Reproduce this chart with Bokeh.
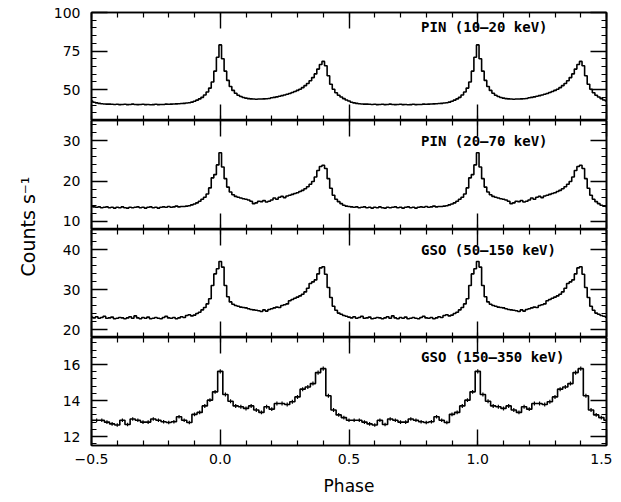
from math import pi
from bokeh.plotting import figure
from bokeh.layouts import row, column
from bokeh.models import Range1d, LinearAxis, SingleIntervalTicker, CustomJSTickFormatter, Label
from bokeh.embed import file_html
from bokeh.resources import INLINE

# ---------------- data (one pulse cycle, phase 0.00 ... 0.99) ----------------
# PIN 10-20 keV, counts/s, bins of 0.01 in phase
pin_10_20 = [79.0, 70.0, 62.0, 56.0, 52.0, 49.5, 47.7, 46.4, 45.6, 44.9,
             44.5, 44.2, 44.0, 43.9, 43.8, 43.9, 43.9, 44.0, 44.1, 44.3,
             44.7, 45.0, 45.3, 45.7, 46.1, 46.5, 47.0, 47.5, 48.1, 48.8,
             49.5, 50.3, 51.3, 52.6, 54.0, 55.8, 57.8, 60.2, 63.3, 66.3,
             68.3, 65.5, 59.0, 53.5, 50.3, 48.0, 46.4, 45.2, 44.2, 43.3,
             42.6, 41.8, 41.4, 41.1, 40.9, 40.7, 40.6, 40.6, 40.5, 40.4,
             40.5, 40.3, 40.4, 40.5, 40.3, 40.4, 40.6, 40.4, 40.3, 40.4,
             40.5, 40.3, 40.4, 40.2, 40.3, 40.5, 40.3, 40.4, 40.4, 40.6,
             40.5, 40.6, 40.7, 40.8, 40.9, 41.0, 41.1, 41.3, 41.5, 41.9,
             42.5, 43.2, 44.0, 45.0, 46.5, 48.5, 51.0, 55.0, 62.0, 71.0]

# PIN 20-70 keV
pin_20_70 = [27.0, 23.5, 20.6, 18.5, 17.3, 16.6, 16.2, 16.0, 15.8, 15.6,
             15.5, 15.3, 15.0, 14.4, 14.6, 15.0, 14.9, 15.2, 14.8, 15.0,
             15.3, 15.8, 15.5, 16.0, 16.2, 15.9, 16.3, 16.5, 16.7, 16.9,
             17.1, 17.4, 17.7, 18.1, 18.6, 19.2, 19.9, 21.0, 22.6, 23.6,
             23.9, 23.1, 20.6, 18.2, 16.5, 15.5, 14.9, 14.4, 14.0, 13.8,
             13.7, 13.6, 13.5, 13.6, 13.4, 13.5, 13.6, 13.4, 13.5, 13.3,
             13.5, 13.4, 13.6, 13.4, 13.3, 13.5, 13.4, 13.5, 13.6, 13.4,
             13.5, 13.3, 13.5, 13.6, 13.4, 13.5, 13.3, 13.5, 13.6, 13.5,
             13.7, 13.5, 13.6, 13.8, 13.6, 13.7, 13.7, 13.8, 13.9, 14.1,
             14.3, 14.6, 15.0, 15.5, 16.0, 16.8, 18.3, 20.8, 21.6, 24.0]

# GSO 50-150 keV
gso_50_150 = [37.0, 35.6, 31.0, 28.2, 26.9, 26.3, 26.0, 25.8, 25.6, 25.5,
              25.4, 25.2, 25.0, 24.9, 24.8, 24.7, 24.5, 24.9, 24.6, 25.0,
              25.2, 25.4, 25.6, 25.5, 26.0, 26.2, 26.4, 27.2, 27.5, 27.8,
              28.1, 28.4, 28.8, 29.4, 30.3, 31.5, 31.9, 32.4, 33.9, 35.4,
              35.7, 33.8, 30.5, 28.0, 25.8, 24.8, 24.1, 23.8, 23.5, 23.3,
              23.1, 22.9, 23.2, 22.8, 23.0, 23.3, 22.8, 22.9, 23.1, 22.7,
              22.8, 23.0, 22.9, 22.7, 22.9, 23.2, 22.8, 23.4, 22.9, 22.7,
              23.0, 22.8, 23.1, 22.7, 22.8, 23.0, 22.8, 22.7, 23.0, 23.3,
              22.9, 22.8, 23.0, 22.7, 22.9, 23.2, 23.0, 23.5, 23.7, 23.4,
              23.6, 24.0, 24.3, 24.9, 25.5, 26.4, 27.7, 31.0, 33.9, 35.2]

# GSO 150-350 keV, bins of 0.02 in phase, with 1-sigma errors
gso_150_350 = [15.62, 14.33, 13.96, 13.70, 13.65, 13.56, 13.70, 13.47, 13.34, 13.65,
               13.52, 13.83, 13.83, 13.78, 13.93, 14.20, 14.63, 14.75, 14.94, 15.55,
               15.77, 14.26, 13.47, 13.20, 13.05, 12.90, 12.90, 12.90, 12.80, 12.70,
               12.64, 12.90, 12.67, 12.97, 12.90, 12.80, 12.80, 12.97, 12.90, 12.82,
               12.78, 12.82, 13.10, 12.90, 12.78, 13.23, 13.34, 13.70, 14.02, 14.48]
gso_150_350_err = [0.12, 0.11, 0.11, 0.11, 0.11, 0.11, 0.11, 0.11, 0.11, 0.11,
                   0.11, 0.11, 0.11, 0.11, 0.11, 0.11, 0.11, 0.11, 0.11, 0.12,
                   0.12, 0.11, 0.11, 0.10, 0.10, 0.10, 0.10, 0.10, 0.10, 0.10,
                   0.10, 0.10, 0.10, 0.10, 0.10, 0.10, 0.10, 0.10, 0.10, 0.10,
                   0.10, 0.10, 0.10, 0.10, 0.10, 0.11, 0.11, 0.11, 0.11, 0.11]

panel_labels = ["PIN (10\u201320 keV)", "PIN (20\u201370 keV)",
                "GSO (50\u2013150 keV)", "GSO (150\u2013350 keV)"]
profiles = [pin_10_20, pin_20_70, gso_50_150, gso_150_350]
y_limits = [(30, 100), (8, 35), (18, 45), (11.5, 17.5)]
y_major = [25, 10, 10, 2]
label_y = [90.9, 29.8, 40.0, 16.42]
x_label = "Phase"
y_label = "Counts s\u207b\u00b9"


def two_cycles(profile):
    """Show the pulse profile over phase -0.5 .. 1.5 (two cycles)."""
    n = len(profile)
    half = n // 2
    vals = list(profile[half:]) + list(profile) + list(profile[:half + 1])
    xs = [round(-0.5 + i / n, 4) for i in range(len(vals))]
    return xs, vals


PANEL_W = 564
LEFT, RIGHT = 43, 6
heights = [120, 109, 108, 163]
tops = [12, 0, 0, 0]
bottoms = [0, 0, 0, 55]
FONT = "DejaVu Sans"

x_range = Range1d(-0.5, 1.5)
x_fmt = CustomJSTickFormatter(code="return tick < 0 ? '\\u2212' + (-tick).toFixed(1) : tick.toFixed(1);")


def style_axis(ax, show):
    ax.axis_line_color = "black"
    ax.axis_line_width = 1.6
    ax.major_tick_in = 16
    ax.major_tick_out = 0
    ax.minor_tick_in = 5
    ax.minor_tick_out = 0
    ax.major_tick_line_color = "black"
    ax.minor_tick_line_color = "black"
    ax.major_tick_line_width = 1.4
    ax.minor_tick_line_width = 1.2
    if show:
        ax.major_label_text_font = FONT
        ax.major_label_text_font_size = "14px"
        ax.major_label_text_color = "black"
    else:
        ax.major_label_text_font_size = "0px"
        ax.major_label_text_color = None
        ax.major_label_standoff = 0


figs = []
for k in range(4):
    p = figure(width=PANEL_W, height=heights[k], x_range=x_range,
               y_range=Range1d(*y_limits[k]), toolbar_location=None,
               output_backend="svg", x_axis_location=None, y_axis_location=None,
               min_border_left=LEFT, min_border_right=RIGHT,
               min_border_top=tops[k], min_border_bottom=bottoms[k],
               outline_line_color="black", outline_line_width=1.6)
    p.grid.visible = False
    xt = SingleIntervalTicker(interval=0.5, num_minor_ticks=5)
    yt = SingleIntervalTicker(interval=y_major[k], num_minor_ticks=5)

    left = LinearAxis(ticker=yt)
    style_axis(left, True)
    left.major_label_standoff = 11
    right = LinearAxis(ticker=yt)
    style_axis(right, False)
    top = LinearAxis(ticker=xt)
    style_axis(top, False)
    bottom = LinearAxis(ticker=xt, formatter=x_fmt)
    style_axis(bottom, k == 3)
    if k == 3:
        bottom.major_label_standoff = 8
        bottom.axis_label = x_label
        bottom.axis_label_text_font = FONT
        bottom.axis_label_text_font_size = "17px"
        bottom.axis_label_text_font_style = "normal"
        bottom.axis_label_text_color = "black"
        bottom.axis_label_standoff = 9
    p.add_layout(left, "left")
    p.add_layout(right, "right")
    p.add_layout(top, "above")
    p.add_layout(bottom, "below")

    xs, ys = two_cycles(profiles[k])
    p.step(xs, ys, mode="center", line_color="black", line_width=1.6)
    if k == 3:
        _, es = two_cycles(gso_150_350_err)
        p.segment(x0=xs, y0=[y - e for y, e in zip(ys, es)],
                  x1=xs, y1=[y + e for y, e in zip(ys, es)],
                  line_color="black", line_width=1.2)

    p.add_layout(Label(x=0.78, y=label_y[k], text=panel_labels[k],
                       text_font="DejaVu Sans Mono", text_font_size="14px",
                       text_font_style="bold", text_baseline="middle",
                       text_align="left", text_color="black"))
    figs.append(p)

total_h = sum(heights)
YW = 48
yfig = figure(width=YW, height=total_h, x_range=Range1d(0, YW), y_range=Range1d(0, total_h),
              toolbar_location=None, output_backend="svg", x_axis_location=None,
              y_axis_location=None, min_border=0, outline_line_color=None)
yfig.grid.visible = False
yfig.add_layout(Label(x=27, y=total_h - 226, text=y_label, angle=pi / 2,
                      text_align="center", text_baseline="middle",
                      text_font=FONT, text_font_size="19px", text_color="black"))

layout = row(yfig, column(*figs))
open("out.html", "w").write(file_html(layout, INLINE))
